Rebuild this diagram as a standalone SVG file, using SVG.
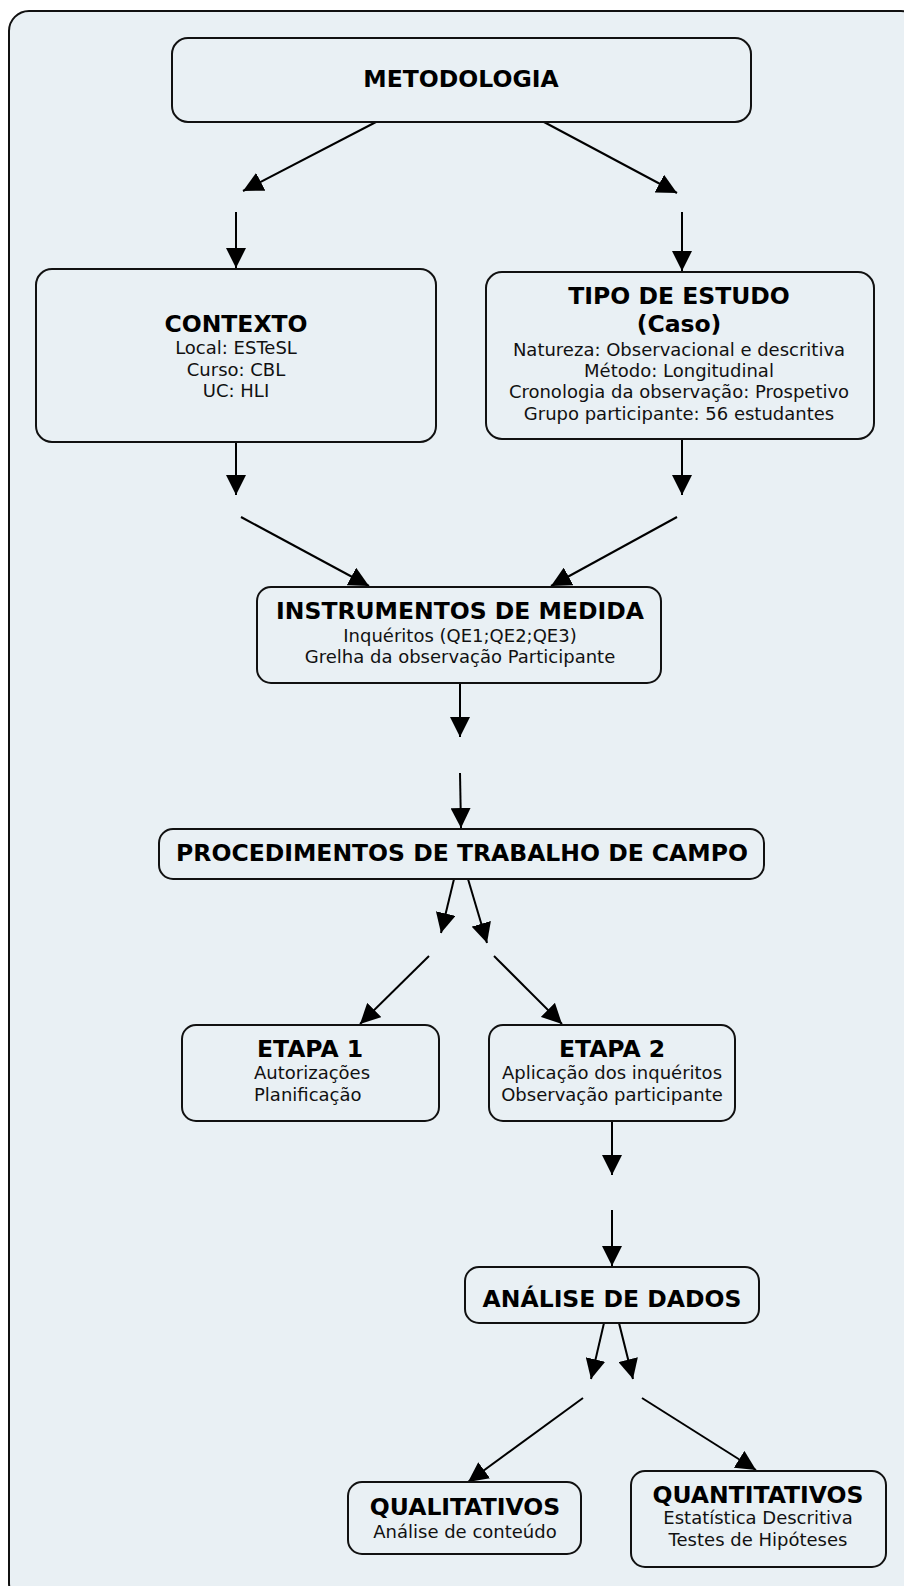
<svg xmlns="http://www.w3.org/2000/svg" width="904" height="1586" viewBox="0 0 904 1586">
  <defs>
    <style>
      .frame { fill: #e9f0f4; stroke: #111; stroke-width: 2; }
      .node rect { fill: #e9f0f4; stroke: #111; stroke-width: 2; }
      .title { font-family: "DejaVu Sans", Verdana, sans-serif; font-weight: bold; font-size: 23.5px; fill: #000; text-anchor: middle; }
      .line { font-family: "DejaVu Sans", Verdana, sans-serif; font-size: 18px; fill: #111; text-anchor: middle; }
      .line.left { text-anchor: start; }
      .conn line { stroke: #000; stroke-width: 2; marker-end: url(#head); }
    </style>
    <marker id="head" markerUnits="userSpaceOnUse" markerWidth="20" markerHeight="20" refX="20" refY="10" orient="auto">
      <path d="M0,0 L20,10 L0,20 Z" fill="#000"/>
    </marker>
  </defs>

  <rect width="904" height="1586" fill="#ffffff"/>
  <rect class="frame" x="9" y="11" width="912" height="1592" rx="20"/>

  <g id="connectors" class="conn">
    <line x1="376" y1="122" x2="243" y2="191"/>
    <line x1="544" y1="122" x2="677" y2="193"/>
    <line x1="236" y1="212" x2="236" y2="268"/>
    <line x1="682" y1="212" x2="682" y2="271"/>
    <line x1="236" y1="442" x2="236" y2="495"/>
    <line x1="682" y1="439" x2="682" y2="495"/>
    <line x1="241" y1="517" x2="369" y2="586"/>
    <line x1="677" y1="517" x2="551" y2="586"/>
    <line x1="460" y1="683" x2="460" y2="737"/>
    <line x1="460" y1="773" x2="461" y2="828"/>
    <line x1="454" y1="879" x2="441" y2="933"/>
    <line x1="468" y1="879" x2="487" y2="943"/>
    <line x1="429" y1="956" x2="360" y2="1024"/>
    <line x1="494" y1="956" x2="562" y2="1024"/>
    <line x1="612" y1="1121" x2="612" y2="1175"/>
    <line x1="612" y1="1210" x2="612" y2="1266"/>
    <line x1="604" y1="1323" x2="591" y2="1379"/>
    <line x1="619" y1="1323" x2="633" y2="1379"/>
    <line x1="583" y1="1398" x2="468" y2="1482"/>
    <line x1="642" y1="1398" x2="756" y2="1470"/>
  </g>

  <g id="metodologia" class="node">
    <rect x="172" y="38" width="579" height="84" rx="16"/>
    <text class="title" x="461" y="87">METODOLOGIA</text>
  </g>

  <g id="contexto" class="node">
    <rect x="36" y="269" width="400" height="173" rx="16"/>
    <text class="title" x="236" y="332">CONTEXTO</text>
    <text class="line" x="236" y="354">Local: ESTeSL</text>
    <text class="line" x="236" y="376">Curso: CBL</text>
    <text class="line" x="236" y="397">UC: HLI</text>
  </g>

  <g id="tipo-de-estudo" class="node">
    <rect x="486" y="272" width="388" height="167" rx="16"/>
    <text class="title" x="679" y="304">TIPO DE ESTUDO</text>
    <text class="title" x="679" y="332">(Caso)</text>
    <text class="line" x="679" y="356">Natureza: Observacional e descritiva</text>
    <text class="line" x="679" y="377">Método: Longitudinal</text>
    <text class="line" x="679" y="398">Cronologia da observação: Prospetivo</text>
    <text class="line" x="679" y="420">Grupo participante: 56 estudantes</text>
  </g>

  <g id="instrumentos" class="node">
    <rect x="257" y="587" width="404" height="96" rx="14"/>
    <text class="title" x="460" y="619">INSTRUMENTOS DE MEDIDA</text>
    <text class="line" x="460" y="642">Inquéritos (QE1;QE2;QE3)</text>
    <text class="line" x="460" y="663">Grelha da observação Participante</text>
  </g>

  <g id="procedimentos" class="node">
    <rect x="159" y="829" width="605" height="50" rx="14"/>
    <text class="title" x="462" y="861">PROCEDIMENTOS DE TRABALHO DE CAMPO</text>
  </g>

  <g id="etapa-1" class="node">
    <rect x="182" y="1025" width="257" height="96" rx="14"/>
    <text class="title" x="310" y="1057">ETAPA 1</text>
    <text class="line left" x="254" y="1079">Autorizações</text>
    <text class="line left" x="254" y="1101">Planificação</text>
  </g>

  <g id="etapa-2" class="node">
    <rect x="489" y="1025" width="246" height="96" rx="14"/>
    <text class="title" x="612" y="1057">ETAPA 2</text>
    <text class="line" x="612" y="1079">Aplicação dos inquéritos</text>
    <text class="line" x="612" y="1101">Observação participante</text>
  </g>

  <g id="analise-de-dados" class="node">
    <rect x="465" y="1267" width="294" height="56" rx="14"/>
    <text class="title" x="612" y="1307">ANÁLISE DE DADOS</text>
  </g>

  <g id="qualitativos" class="node">
    <rect x="348" y="1482" width="233" height="72" rx="14"/>
    <text class="title" x="465" y="1515">QUALITATIVOS</text>
    <text class="line" x="465" y="1538">Análise de conteúdo</text>
  </g>

  <g id="quantitativos" class="node">
    <rect x="631" y="1471" width="255" height="96" rx="14"/>
    <text class="title" x="758" y="1503">QUANTITATIVOS</text>
    <text class="line" x="758" y="1524">Estatística Descritiva</text>
    <text class="line" x="758" y="1546">Testes de Hipóteses</text>
  </g>
</svg>
